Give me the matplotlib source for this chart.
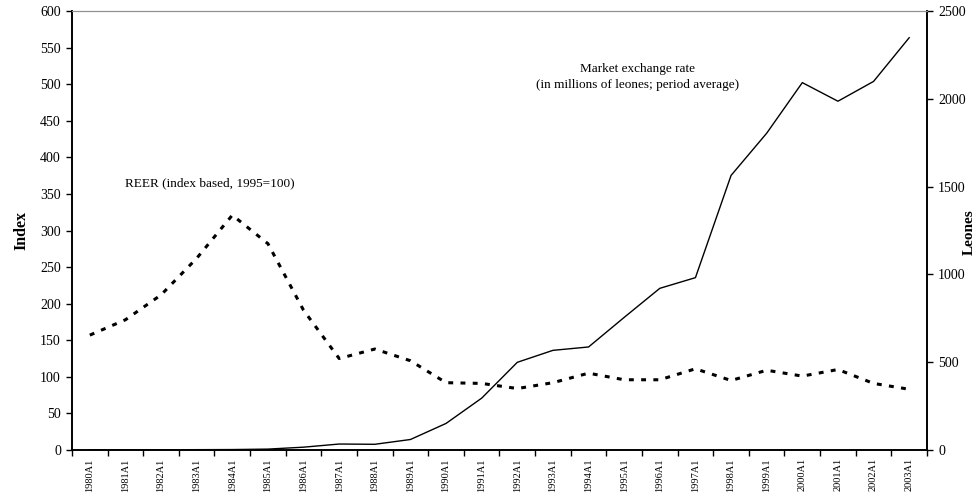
import numpy as np
import matplotlib
matplotlib.use('Agg')
import matplotlib.pyplot as plt

plt.rcParams['font.family'] = ['Liberation Serif', 'DejaVu Serif']

# years / categories
years = [str(y) + 'A1' for y in range(1980, 2004)]

# REER, index 1995=100 (left axis)
reer = [157, 178, 212, 262, 321, 282, 191, 125, 138, 122, 92, 91,
        84, 92, 105, 96, 96, 111, 95, 109, 101, 110, 91, 83]

# market exchange rate, leones (right axis)
rate = [1.05, 1.16, 1.24, 1.89, 2.51, 5.09, 16.1, 34.0, 32.5, 59.8, 151.4, 295.3,
        499.4, 567.5, 586.7, 755.2, 920.7, 981.5, 1563.6, 1804.0, 2092.1, 1986.2,
        2099.0, 2347.9]

x = np.arange(len(years))

fig = plt.figure(figsize=(9.78, 4.99), dpi=100)
ax = fig.add_axes([72/978, 1-450/499, (927-72)/978, 439/499])
ax2 = ax.twinx()

ax.plot(x, reer, color='black', lw=2.2, linestyle=(0, (1.6, 2.4)), zorder=3)
ax2.plot(x, rate, color='black', lw=1.0)

ax.set_xlim(-0.5, len(years)-0.5)
ax.set_ylim(0, 600)
ax.set_yticks(np.arange(0, 601, 50))
ax2.set_ylim(0, 2500)
ax2.set_yticks(np.arange(0, 2501, 500))

# ticks between categories, labels on centers
ax.set_xticks(np.arange(-0.5, len(years), 1))
ax.set_xticklabels([])
ax.set_xticks(x, minor=True)
ax.set_xticklabels(years, minor=True, rotation=90, fontsize=7.5)
ax.tick_params(axis='x', which='minor', length=0, pad=6)
ax.tick_params(axis='x', which='major', length=4, direction='out', width=1)
ax.tick_params(axis='y', labelsize=10, length=4, width=1, pad=4)
ax2.tick_params(axis='y', labelsize=10, length=4, width=1, pad=4)

for a in (ax, ax2):
    a.spines['top'].set_color('#909090')
    a.spines['left'].set_linewidth(1.2)
    a.spines['right'].set_linewidth(1.2)
    a.spines['bottom'].set_linewidth(1.2)

ax.set_ylabel('Index', fontsize=11.5, fontweight='bold', labelpad=8)
# right label placed by hand so it stays inside the figure
fig.text(969/978, 1-232/499, 'Leones', fontsize=11, fontweight='bold',
         rotation=90, ha='center', va='center')

ax.text(3.38, 365, 'REER (index based, 1995=100)', fontsize=9.5, ha='center', va='center')
ax.text(15.37, 510, 'Market exchange rate\n(in millions of leones; period average)',
        fontsize=9.5, ha='center', va='center', linespacing=1.45)

fig.savefig('out.png', dpi=100)
